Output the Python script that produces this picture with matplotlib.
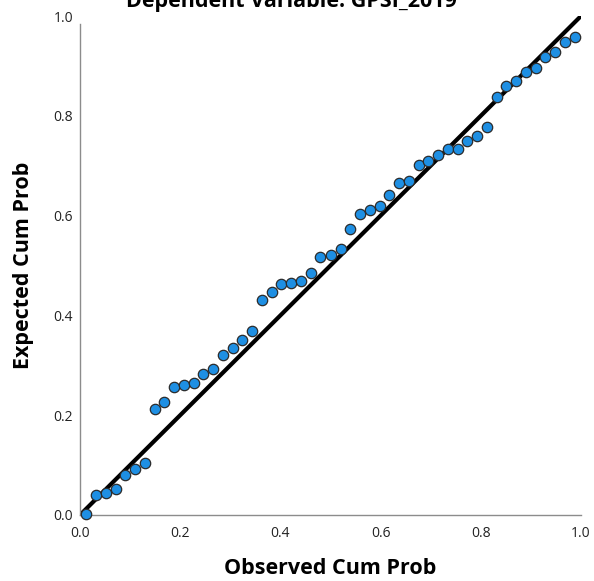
import matplotlib.pyplot as plt
import numpy as np

# observed vs expected cumulative probabilities (P-P plot)
observed = [0.012, 0.032, 0.051, 0.071, 0.090, 0.110, 0.129, 0.149, 0.168, 0.188,
            0.207, 0.227, 0.246, 0.266, 0.285, 0.305, 0.324, 0.344, 0.363, 0.383,
            0.402, 0.422, 0.441, 0.461, 0.480, 0.500, 0.520, 0.539, 0.559, 0.578,
            0.598, 0.617, 0.637, 0.656, 0.676, 0.695, 0.715, 0.734, 0.754, 0.773,
            0.793, 0.812, 0.832, 0.851, 0.871, 0.890, 0.910, 0.929, 0.949, 0.968,
            0.988]
expected = [0.002, 0.040, 0.045, 0.053, 0.080, 0.092, 0.105, 0.212, 0.227, 0.256,
            0.260, 0.264, 0.283, 0.292, 0.320, 0.335, 0.350, 0.369, 0.430, 0.446,
            0.463, 0.465, 0.469, 0.485, 0.518, 0.521, 0.534, 0.573, 0.603, 0.612,
            0.619, 0.641, 0.665, 0.669, 0.702, 0.709, 0.721, 0.733, 0.733, 0.750,
            0.760, 0.777, 0.837, 0.860, 0.870, 0.887, 0.895, 0.917, 0.927, 0.948,
            0.957]
ref_line = [0.0, 1.0]
ticks = [0.0, 0.2, 0.4, 0.6, 0.8, 1.0]

plt.rcParams['font.family'] = ['Open Sans', 'DejaVu Sans']

fig = plt.figure(figsize=(5.94, 5.81), dpi=100)
ax = fig.add_axes([80/594, 1 - 515/581, 501/594, 499/581])

ax.plot(ref_line, ref_line, color='black', lw=3.0, solid_capstyle='butt', zorder=2)
ax.scatter(observed, expected, s=56, color='#1e8fe3', edgecolors='#2b2b2b',
           linewidths=0.9, zorder=3, clip_on=False)

ax.set_xlim(0, 1)
ax.set_ylim(0, 1)
ax.set_xticks(ticks)
ax.set_yticks(ticks)
ax.set_xticklabels([f'{t:.1f}' for t in ticks])
ax.set_yticklabels([f'{t:.1f}' for t in ticks])
ax.tick_params(length=0, labelsize=10, colors='#222222')
ax.tick_params(axis='y', pad=5)
ax.tick_params(axis='x', pad=8)

for side in ['top', 'right']:
    ax.spines[side].set_visible(False)
for side in ['left', 'bottom']:
    ax.spines[side].set_color('#8c8c8c')
    ax.spines[side].set_linewidth(1.0)
ax.spines['left'].set_bounds(0, 0.984)

ax.set_xlabel('Observed Cum Prob', fontsize=15.5, fontweight='bold', labelpad=12)
ax.set_ylabel('Expected Cum Prob', fontsize=15.5, fontweight='bold', labelpad=14)

# title sits partly above the top edge, as in the source image
fig.text(291/594, 1 - 7/581, 'Dependent Variable: GPSI_2019', ha='center',
         va='baseline', fontsize=15.5, fontweight='bold')

plt.savefig('out.png', dpi=100)
